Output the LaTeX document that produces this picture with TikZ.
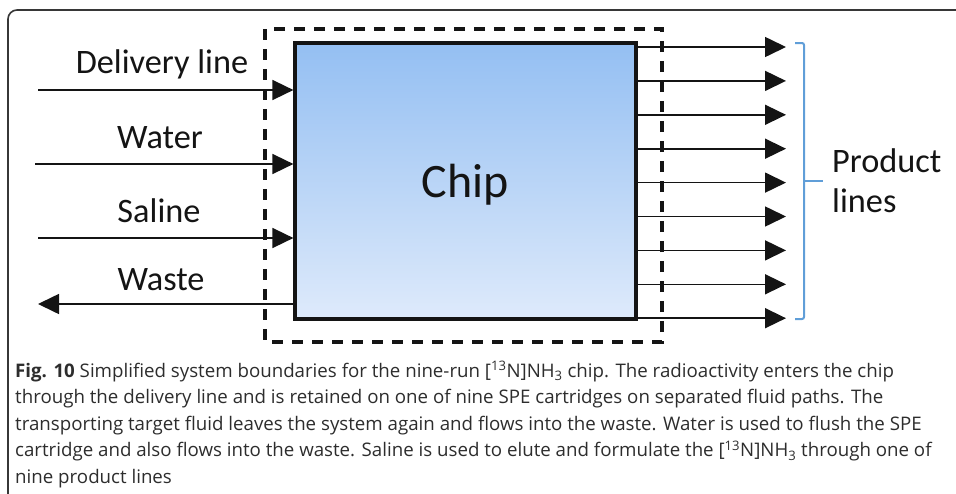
\documentclass[tikz,border=0pt]{standalone}
\usepackage{fontspec}
\setmainfont{Carlito}
\newfontfamily\capfont{Open Sans}
\usetikzlibrary{arrows.meta}
\definecolor{ink}{RGB}{20,20,20}
\definecolor{capink}{RGB}{45,45,45}
\definecolor{chiptop}{RGB}{148,191,242}
\definecolor{chipbot}{RGB}{222,234,251}
\definecolor{braceblue}{RGB}{96,158,216}
\tikzset{
  flow/.style={draw=ink, line width=1.6pt, -{Triangle[length=21pt,width=20pt]}},
  flowback/.style={draw=ink, line width=1.6pt, {Triangle[length=21pt,width=20pt]}-},
  chipbox/.style={draw=ink, line width=3.2pt, top color=chiptop, bottom color=chipbot,
    minimum width=341pt, minimum height=276pt, inner sep=0pt, rectangle},
  boundary/.style={draw=ink, line width=3.4pt, dash pattern=on 11pt off 9pt},
  lbl/.style={font=\fontsize{34.3}{40}\selectfont, text=ink, anchor=base, inner sep=0pt},
  caption/.style={font=\capfont\fontsize{18.7}{26}\selectfont, text=capink, anchor=base west, inner sep=0pt},
  bracestyle/.style={draw=braceblue, line width=2pt, rounded corners=2pt},
  frame/.style={draw=ink!85, line width=1.6pt, rounded corners=9pt}
}
\begin{document}
\begin{tikzpicture}[x=1pt,y=-1pt]
\useasboundingbox (0,0) rectangle (956,493);
% outer frame
\draw[frame] (8,500) -- (8,10) -- (970,10);
% chip
\node[chipbox] (chip) at (465.5,181) {};
\node[font=\fontsize{48}{50}\selectfont, text=ink, anchor=base, inner sep=0pt] (chiplabel) at (465,197) {Chip};
% system boundary
\coordinate (bnw) at (265,29);
\coordinate (bse) at (662,342);
\draw[boundary] (bnw) rectangle (bse);
% inputs
\coordinate (din) at (38,90);
\coordinate (win) at (35,164);
\coordinate (sin) at (38,238);
\coordinate (wout) at (38,304);
\draw[flow] (din) -- (din -| chip.west);
\draw[flow] (win) -- (win -| chip.west);
\draw[flow] (sin) -- (sin -| chip.west);
\draw[flowback] (wout) -- (wout -| chip.west);
\node[lbl] (ldel) at (162,73) {Delivery line};
\node[lbl] (lwat) at (160,148) {Water};
\node[lbl] (lsal) at (159,222) {Saline};
\node[lbl] (lwas) at (161,290) {Waste};
% outputs
\foreach \i in {0,...,8}{
  \coordinate (p\i) at (786,{47+\i*33.9});
  \draw[flow] (p\i -| chip.east) -- (p\i);
}
% brace
\coordinate (btop) at (795,43);
\coordinate (bbot) at (795,319);
\coordinate (bmid) at (804,181);
\coordinate (btip) at (823,181);
\draw[bracestyle] (btop) -- (804,43) -- (804,319) -- (bbot);
\draw[bracestyle] (bmid) -- (btip);
\node[lbl, anchor=base west] (prod1) at (832,172) {Product};
\node[lbl, anchor=base west] (prod2) at (832,212) {lines};
% caption
\node[caption] (c1) at (15,377) {\textbf{Fig. 10} Simplified system boundaries for the nine-run [\textsuperscript{13}N]NH\textsubscript{3} chip. The radioactivity enters the chip};
\node[caption] (c2) at (15,403.5) {through the delivery line and is retained on one of nine SPE cartridges on separated fluid paths. The};
\node[caption] (c3) at (15,430) {transporting target fluid leaves the system again and flows into the waste. Water is used to flush the SPE};
\node[caption] (c4) at (15,456.5) {cartridge and also flows into the waste. Saline is used to elute and formulate the [\textsuperscript{13}N]NH\textsubscript{3} through one of};
\node[caption] (c5) at (15,483) {nine product lines};
\end{tikzpicture}
\end{document}
